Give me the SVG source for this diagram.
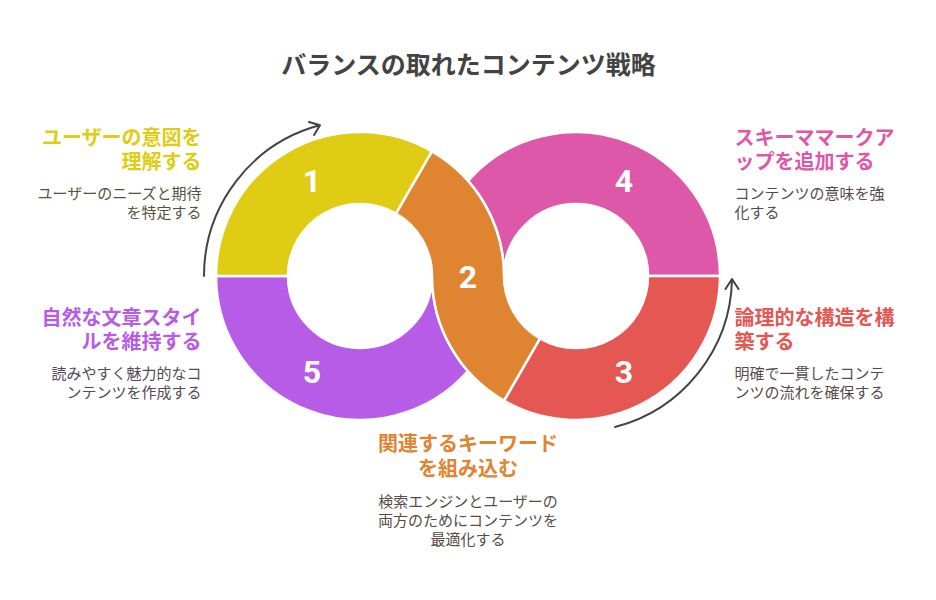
<svg xmlns="http://www.w3.org/2000/svg" width="936" height="600" viewBox="0 0 936 600">
<style>
text{font-family:"Noto Sans CJK JP","Noto Sans",sans-serif}
.t{font-size:25px;font-weight:700;fill:#434343;text-anchor:middle}
.h{font-size:20px;font-weight:700}
.b{font-size:15px}
.e{text-anchor:end}.s{text-anchor:start}.m{text-anchor:middle}
.n{font-family:Roboto,"Noto Sans",sans-serif;font-size:32px;font-weight:700;fill:#fff;text-anchor:middle}
.seg{stroke:#fff;stroke-width:2.5;stroke-linejoin:round}
.arr{fill:none;stroke:#434343;stroke-width:2;stroke-linecap:round;stroke-linejoin:round}
</style>
<rect width="936" height="600" fill="#fff"/>
<text class="t" x="468.500" y="74">バランスの取れたコンテンツ戦略</text>
<g id="node-5"><path class="seg" fill="#b75ce6" d="M216,276A144 144 0 0 0 468,371.2A144 144 0 0 1 432,276A72 72 0 1 1 288,276Z"/><text class="n" x="312" y="383">5</text>
<text class="h e" fill="#b75ce6"><tspan x="201.500" y="324.500">自然な文章スタイ</tspan><tspan x="201.500" y="349">ルを維持する</tspan></text>
<text class="b e" fill="#534a58"><tspan x="201.500" y="379">読みやすく魅力的なコ</tspan><tspan x="201.500" y="398">ンテンツを作成する</tspan></text></g>
<g id="node-4"><path class="seg" fill="#de58a9" d="M720,276A144 144 0 0 0 468,180.8A144 144 0 0 1 504,276A72 72 0 0 1 648,276Z"/><text class="n" x="624" y="192">4</text>
<text class="h s" fill="#de58a9"><tspan x="734.500" y="144.500">スキーママークア</tspan><tspan x="734.500" y="169">ップを追加する</tspan></text>
<text class="b s" fill="#584a52"><tspan x="734.500" y="199">コンテンツの意味を強</tspan><tspan x="734.500" y="218">化する</tspan></text></g>
<g id="node-3"><path class="seg" fill="#e55753" d="M720,276A144 144 0 0 1 504,400.7L540,338.4A72 72 0 0 0 648,276Z"/><text class="n" x="624" y="383">3</text>
<text class="h s" fill="#e55753"><tspan x="734.500" y="324.500">論理的な構造を構</tspan><tspan x="734.500" y="349">築する</tspan></text>
<text class="b s" fill="#584a4a"><tspan x="734.500" y="379">明確で一貫したコンテ</tspan><tspan x="734.500" y="398">ンツの流れを確保する</tspan></text></g>
<g id="node-1"><path class="seg" fill="#e0cc14" d="M216,276A144 144 0 0 1 432,151.3L396,213.6A72 72 0 0 0 288,276Z"/><text class="n" x="312" y="192">1</text>
<text class="h e" fill="#e0cc14"><tspan x="201.500" y="144.500">ユーザーの意図を</tspan><tspan x="201.500" y="169">理解する</tspan></text>
<text class="b e" fill="#56523e"><tspan x="201.500" y="199">ユーザーのニーズと期待</tspan><tspan x="201.500" y="218">を特定する</tspan></text></g>
<g id="node-2"><path class="seg" fill="#df8430" d="M432,151.3A144 144 0 0 1 504,276A72 72 0 0 0 540,338.4L504,400.7A144 144 0 0 1 432,276A72 72 0 0 0 396,213.6Z"/><text class="n" x="468" y="288">2</text>
<text class="h m" fill="#df8430"><tspan x="468" y="451">関連するキーワード</tspan><tspan x="468" y="476">を組み込む</tspan></text>
<text class="b m" fill="#574e46"><tspan x="468" y="507">検索エンジンとユーザーの</tspan><tspan x="468" y="526">両方のためにコンテンツを</tspan><tspan x="468" y="545">最適化する</tspan></text></g>
<g id="connectors">
<path class="arr" d="M204,276A156 156 0 0 1 319.6,125.3M309,122L320,125.3L314,135"/>
<path class="arr" d="M615,427A156 156 0 0 0 732,280M725.500,289L732,279L738.500,289"/>
</g>
</svg>
